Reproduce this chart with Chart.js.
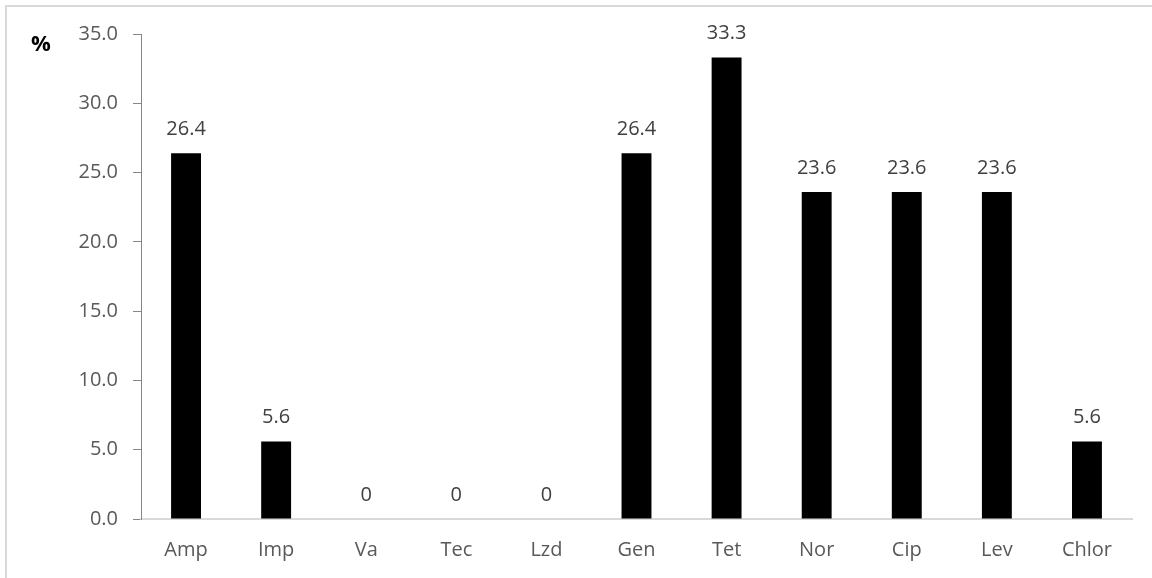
<!DOCTYPE html>
<html>
<head>
<meta charset="utf-8">
<script src="https://cdn.jsdelivr.net/npm/chart.js@4/dist/chart.umd.min.js"></script>
<style>
  html, body { margin: 0; padding: 0; background: #fff; }
  canvas { display: block; }
</style>
</head>
<body>
<canvas id="c" width="1152" height="578"></canvas>
<script>
// Antibiotic resistance rates (%)
const categories = ['Amp', 'Imp', 'Va', 'Tec', 'Lzd', 'Gen', 'Tet', 'Nor', 'Cip', 'Lev', 'Chlor'];
const resistance = [26.4, 5.6, 0, 0, 0, 26.4, 33.3, 23.6, 23.6, 23.6, 5.6];
const valueLabels = ['26.4', '5.6', '0', '0', '0', '26.4', '33.3', '23.6', '23.6', '23.6', '5.6'];

const FONT = '"Open Sans", "Liberation Sans", sans-serif';

// Light frame along the top and left edges of the canvas
const framePlugin = {
  id: 'frame',
  beforeDraw(chart) {
    const ctx = chart.ctx;
    ctx.save();
    ctx.strokeStyle = '#d9d9d9';
    ctx.lineWidth = 2;
    ctx.beginPath();
    ctx.moveTo(6, chart.height);
    ctx.lineTo(6, 6);
    ctx.lineTo(chart.width, 6);
    ctx.stroke();
    ctx.restore();
  }
};

// Value labels above each bar, plus the unit mark beside the y axis
const labelPlugin = {
  id: 'valueLabels',
  afterDatasetsDraw(chart) {
    const ctx = chart.ctx;
    const meta = chart.getDatasetMeta(0);
    ctx.save();
    ctx.font = '20px ' + FONT;
    ctx.fillStyle = '#404040';
    ctx.textAlign = 'center';
    ctx.textBaseline = 'bottom';
    meta.data.forEach((bar, i) => {
      ctx.fillText(valueLabels[i], bar.x, bar.y - 14);
    });
    ctx.font = 'bold 22px ' + FONT;
    ctx.fillStyle = '#000';
    ctx.textAlign = 'center';
    ctx.textBaseline = 'middle';
    ctx.fillText('%', 41, chart.chartArea.top + 11);
    ctx.restore();
  }
};

new Chart(document.getElementById('c'), {
  type: 'bar',
  data: {
    labels: categories,
    datasets: [{
      data: resistance,
      backgroundColor: '#000000',
      borderWidth: 0,
      barPercentage: 0.332,
      categoryPercentage: 1
    }]
  },
  options: {
    responsive: false,
    animation: false,
    events: [],
    layout: { padding: { top: 34, right: 20, left: 0, bottom: 0 } },
    plugins: {
      legend: { display: false },
      tooltip: { enabled: false }
    },
    scales: {
      x: {
        grid: { display: false },
        border: { display: true, color: '#d9d9d9', width: 2 },
        ticks: { color: '#595959', font: { family: FONT, size: 20 }, padding: 11 },
        afterFit(scale) { scale.height = 59; }
      },
      y: {
        min: 0,
        max: 35,
        grid: { display: true, drawOnChartArea: false, drawTicks: true, tickLength: 8, color: '#868686' },
        border: { display: true, color: '#868686', width: 1 },
        ticks: {
          stepSize: 5,
          color: '#595959',
          font: { family: FONT, size: 20 },
          padding: 15,
          callback: (v) => Number(v).toFixed(1)
        },
        afterFit(scale) { scale.width = 141; }
      }
    }
  },
  plugins: [framePlugin, labelPlugin]
});
</script>
</body>
</html>
